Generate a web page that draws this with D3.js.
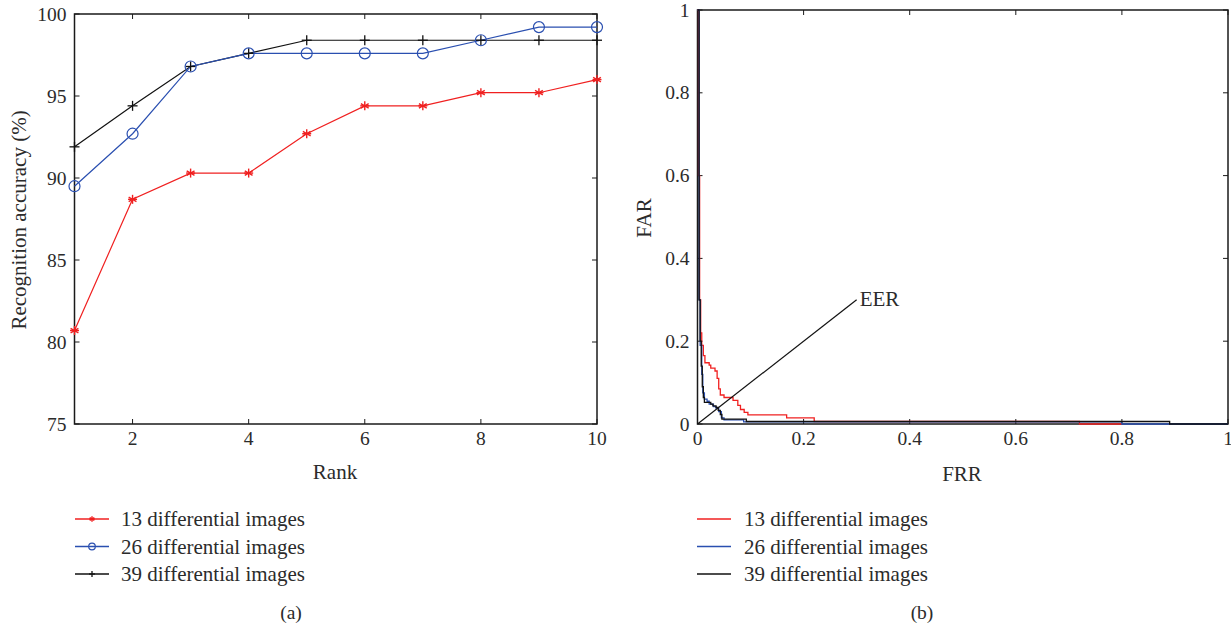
<!DOCTYPE html>
<html><head><meta charset="utf-8">
<script src="https://cdn.jsdelivr.net/npm/d3@7"></script>
<style>
body{margin:0;background:#fff;}
</style></head>
<body><svg id="c" width="1231" height="630"></svg>
<script>
// ---- Data ----
const ranks = [1,2,3,4,5,6,7,8,9,10];
const acc13 = [80.7,88.7,90.3,90.3,92.7,94.4,94.4,95.2,95.2,96.0];
const acc26 = [89.5,92.7,96.8,97.6,97.6,97.6,97.6,98.4,99.2,99.2];
const acc39 = [91.9,94.4,96.8,97.6,98.4,98.4,98.4,98.4,98.4,98.4];
const seriesNames = ["13 differential images","26 differential images","39 differential images"];
const seriesColors = ["#f02020","#2a4fb0","#111111"];
const xTicksA = [2,4,6,8,10];
const yTicksA = [75,80,85,90,95,100];
const ticksB = [0,0.2,0.4,0.6,0.8,1];
// ROC-like step curves: [FRR, FAR]
const roc13 = [[0,1],[0.002,0.6],[0.004,0.3],[0.006,0.22],[0.008,0.19],[0.011,0.165],[0.014,0.148],[0.022,0.142],[0.025,0.135],[0.033,0.128],[0.037,0.11],[0.040,0.085],[0.043,0.07],[0.05,0.064],[0.067,0.057],[0.076,0.045],[0.081,0.035],[0.088,0.028],[0.095,0.022],[0.168,0.015],[0.22,0.006],[0.72,0],[0.8,0]];
const roc26 = [[0,1],[0.003,0.3],[0.005,0.19],[0.008,0.12],[0.01,0.075],[0.013,0.06],[0.018,0.055],[0.022,0.048],[0.03,0.042],[0.035,0.038],[0.04,0.03],[0.045,0.015],[0.05,0.01],[0.087,0.005],[0.8,0],[1,0]];
const roc39 = [[0,1],[0.003,0.3],[0.005,0.2],[0.007,0.14],[0.009,0.09],[0.011,0.064],[0.013,0.052],[0.025,0.048],[0.029,0.044],[0.035,0.04],[0.039,0.033],[0.043,0.023],[0.046,0.012],[0.092,0.006],[0.89,0],[1,0]];
const eerLine = [[0,0],[0.3,0.3]];

const svg = d3.select("#c");
const axisColor = "#1a1a1a";
const textColor = "#2b2b2b";
const FONT = "Liberation Serif";
const fsTick = 19.5;
const fs = 21;

function txt(g, x, y, s, anchor, size){
  return g.append("text").attr("x",x).attr("y",y).attr("text-anchor",anchor||"start")
    .attr("font-family",FONT).attr("font-size",size||fs).attr("fill",textColor).text(s);
}

function frame(g, x, y, xt, yt, xfmt, yfmt){
  const [x0,x1] = x.range(), [y0,y1] = y.range();
  g.append("rect").attr("x",x0).attr("y",y1).attr("width",x1-x0).attr("height",y0-y1)
    .attr("fill","none").attr("stroke",axisColor).attr("stroke-width",1.5);
  const tl = 5;
  xt.forEach(v=>{
    const px = x(v);
    g.append("line").attr("x1",px).attr("x2",px).attr("y1",y0).attr("y2",y0-tl).attr("stroke",axisColor);
    g.append("line").attr("x1",px).attr("x2",px).attr("y1",y1).attr("y2",y1+tl).attr("stroke",axisColor);
    txt(g, px, y0+21, xfmt(v), "middle", fsTick);
  });
  yt.forEach(v=>{
    const py = y(v);
    g.append("line").attr("x1",x0).attr("x2",x0+tl).attr("y1",py).attr("y2",py).attr("stroke",axisColor);
    g.append("line").attr("x1",x1).attr("x2",x1-tl).attr("y1",py).attr("y2",py).attr("stroke",axisColor);
    txt(g, x0-8, py+6.5, yfmt(v), "end", fsTick);
  });
}

// ---- Panel (a) ----
const xa = d3.scaleLinear().domain([1,10]).range([74.5,597]);
const ya = d3.scaleLinear().domain([75,100]).range([424,14]);
const ga = svg.append("g");
frame(ga, xa, ya, xTicksA, yTicksA, d=>d, d=>d);
txt(ga, 335, 479, "Rank", "middle");
ga.append("text").attr("transform","translate(26,220) rotate(-90)").attr("text-anchor","middle")
  .attr("font-family",FONT).attr("font-size",fs).attr("fill",textColor).text("Recognition accuracy (%)");

const accSets = [acc13, acc26, acc39];
const lineA = d3.line().x((d,i)=>xa(ranks[i])).y(d=>ya(d));

function marker(g, type, cx, cy, color, s){
  s = s||1;
  if(type===0){
    const r=4.5*s;
    [0,60,120].forEach(a=>{
      const rad=a*Math.PI/180;
      g.append("line").attr("x1",cx-r*Math.sin(rad)).attr("y1",cy-r*Math.cos(rad))
       .attr("x2",cx+r*Math.sin(rad)).attr("y2",cy+r*Math.cos(rad)).attr("stroke",color).attr("stroke-width",1.4);
    });
    g.append("line").attr("x1",cx-r).attr("x2",cx+r).attr("y1",cy).attr("y2",cy).attr("stroke",color).attr("stroke-width",1.4);
  } else if(type===1){
    g.append("circle").attr("cx",cx).attr("cy",cy).attr("r",5.5*s).attr("fill","none").attr("stroke",color).attr("stroke-width",1.2);
  } else {
    const r=5*s;
    g.append("line").attr("x1",cx-r).attr("x2",cx+r).attr("y1",cy).attr("y2",cy).attr("stroke",color).attr("stroke-width",1.3);
    g.append("line").attr("x1",cx).attr("x2",cx).attr("y1",cy-r).attr("y2",cy+r).attr("stroke",color).attr("stroke-width",1.3);
  }
}

[2,1,0].forEach(k=>{
  ga.append("path").attr("d",lineA(accSets[k])).attr("fill","none").attr("stroke",seriesColors[k]).attr("stroke-width",1.2);
});
[2,1,0].forEach(k=>{
  accSets[k].forEach((v,i)=>marker(ga,k,xa(ranks[i]),ya(v),seriesColors[k]));
});

// legend a
seriesNames.forEach((n,k)=>{
  const ly = 519 + k*27.5;
  ga.append("line").attr("x1",75).attr("x2",109).attr("y1",ly).attr("y2",ly).attr("stroke",seriesColors[k]).attr("stroke-width",1.3);
  marker(ga,k,92,ly,seriesColors[k],0.6);
  txt(ga, 121, ly+7, n);
});
txt(ga, 291, 619, "(a)", "middle", fsTick);

// ---- Panel (b) ----
const xb = d3.scaleLinear().domain([0,1]).range([697.5,1228]);
const yb = d3.scaleLinear().domain([0,1]).range([424,10]);
const gb = svg.append("g");
const fmtB = d=> d===0?"0":(d===1?"1":d3.format(".1f")(d));
frame(gb, xb, yb, ticksB, ticksB, fmtB, fmtB);
txt(gb, 962, 481, "FRR", "middle");
gb.append("text").attr("transform","translate(651,218) rotate(-90)").attr("text-anchor","middle")
  .attr("font-family",FONT).attr("font-size",fs).attr("fill",textColor).text("FAR");

const lineB = d3.line().x(d=>xb(d[0])).y(d=>yb(d[1])).curve(d3.curveStepAfter);
const rocSets = [roc13, roc26, roc39];
[0,1,2].forEach(k=>{
  gb.append("path").attr("d",lineB(rocSets[k])).attr("fill","none").attr("stroke",seriesColors[k]).attr("stroke-width",1.3);
});
gb.append("path").attr("d",d3.line().x(d=>xb(d[0])).y(d=>yb(d[1]))(eerLine)).attr("stroke","#111").attr("stroke-width",1.2).attr("fill","none");
txt(gb, xb(0.3)+3, yb(0.3)+6, "EER");

seriesNames.forEach((n,k)=>{
  const ly = 519 + k*27.5;
  gb.append("line").attr("x1",697).attr("x2",731).attr("y1",ly).attr("y2",ly).attr("stroke",seriesColors[k]).attr("stroke-width",1.3);
  txt(gb, 744, ly+7, n);
});
txt(gb, 922, 619, "(b)", "middle", fsTick);
</script></body></html>
